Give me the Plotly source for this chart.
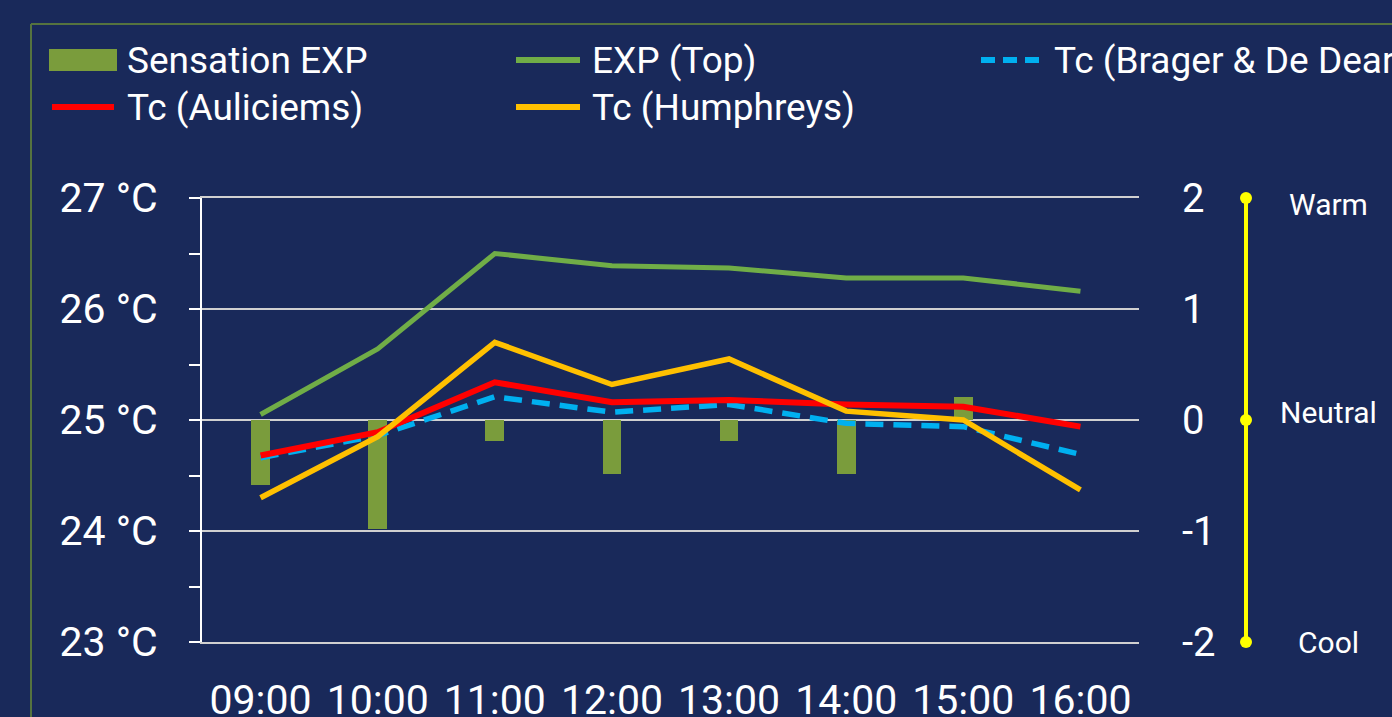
import plotly.graph_objects as go

# ---------------- data ----------------
hours = ["09:00", "10:00", "11:00", "12:00", "13:00", "14:00", "15:00", "16:00"]
sensation_exp = [-0.59, -0.98, -0.19, -0.49, -0.19, -0.49, 0.21, 0.0]
exp_top = [25.05, 25.64, 26.50, 26.39, 26.37, 26.28, 26.28, 26.16]
tc_brager = [24.66, 24.86, 25.21, 25.07, 25.14, 24.97, 24.94, 24.69]
tc_auliciems = [24.68, 24.89, 25.34, 25.16, 25.18, 25.14, 25.12, 24.94]
tc_humphreys = [24.30, 24.85, 25.70, 25.32, 25.55, 25.08, 25.00, 24.37]

series_names = ["Sensation EXP", "EXP (Top)", "Tc (Brager & De Dear)",
                "Tc (Auliciems)", "Tc (Humphreys)"]

temp_ticks = [23, 24, 25, 26, 27]
temp_labels = ["23 °C", "24 °C", "25 °C", "26 °C", "27 °C"]
sens_range = [-2, 2]
sens_ticks = [-2, -1, 0, 1, 2]
sens_labels = ["-2", "-1", "0", "1", "2"]
scale_values = [-2, 0, 2]
scale_labels = ["Cool", "Neutral", "Warm"]

# ---------------- style ----------------
BG = "#19295A"
BAR_C = "#7A9C3C"
GREEN = "#70AD47"
BLUE = "#00B0F0"
RED = "#FF0000"
ORANGE = "#FFC000"
YELLOW = "#FFFF00"
GRID = "#D0D0D0"
FONT = "Roboto"

W, H = 1392, 717
L, R, T, B = 202, 1139, 198, 642   # plot area in pixels


def px(xp):
    return (xp - L) / (R - L)


def py(yp):
    return (B - yp) / (B - T)


def sens_to_paper(v):
    return (v - sens_range[0]) / (sens_range[1] - sens_range[0])


fig = go.Figure()

# bars on the base (sensation) axis so that lines draw above them
fig.add_trace(go.Bar(x=hours, y=sensation_exp, name=series_names[0],
                     marker=dict(color=BAR_C, line=dict(width=0)),
                     width=0.16, xaxis="x", yaxis="y", showlegend=False))

line_specs = [
    (exp_top, series_names[1], GREEN, 5, "solid"),
    (tc_brager, series_names[2], BLUE, 5.5, "18px,10px"),
    (tc_auliciems, series_names[3], RED, 6, "solid"),
    (tc_humphreys, series_names[4], ORANGE, 5.5, "solid"),
]
for vals, nm, col, wd, dash in line_specs:
    fig.add_trace(go.Scatter(x=hours, y=vals, name=nm, mode="lines",
                             line=dict(color=col, width=wd, dash=dash),
                             xaxis="x", yaxis="y2", showlegend=False))

# ---------------- manual legend ----------------
shapes = []
annotations = []
leg_rows = [60, 107]
leg_cols = [(49, 117, 125), (513, 583, 590), (978, 1045, 1052)]
leg_items = [
    (series_names[0], "bar", BAR_C, 0, 0),
    (series_names[1], "line", GREEN, 0, 1),
    (series_names[2], "dash", BLUE, 0, 2),
    (series_names[3], "line", RED, 1, 0),
    (series_names[4], "line", ORANGE, 1, 1),
]
for nm, kind, col, r, c in leg_items:
    x0, x1, xt = leg_cols[c]
    yc = leg_rows[r]
    if kind == "bar":
        shapes.append(dict(type="rect", xref="paper", yref="paper",
                           x0=px(x0), x1=px(x1), y0=py(yc + 11), y1=py(yc - 11),
                           fillcolor=col, line=dict(width=0), layer="above"))
    else:
        shapes.append(dict(type="line", xref="paper", yref="paper",
                           x0=px(x0 + 3), x1=px(x1 - 3), y0=py(yc), y1=py(yc),
                           line=dict(color=col, width=6,
                                     dash="14px,8px" if kind == "dash" else "solid"),
                           layer="above"))
    annotations.append(dict(text=nm, xref="paper", yref="paper",
                            x=px(xt), y=py(yc), xanchor="left", yanchor="middle",
                            showarrow=False,
                            font=dict(family=FONT, size=37, color="white")))

# outer border (greenish frame)
shapes.append(dict(type="line", xref="paper", yref="paper",
                   x0=px(31), x1=px(W + 10), y0=py(24), y1=py(24),
                   line=dict(color="#55733F", width=2), layer="above"))
shapes.append(dict(type="line", xref="paper", yref="paper",
                   x0=px(31), x1=px(31), y0=py(24), y1=py(H + 10),
                   line=dict(color="#55733F", width=2), layer="above"))

# ---------------- thermal sensation scale on the right ----------------
scale_x = 1246
shapes.append(dict(type="line", xref="paper", yref="paper",
                   x0=px(scale_x), x1=px(scale_x),
                   y0=sens_to_paper(min(scale_values)), y1=sens_to_paper(max(scale_values)),
                   line=dict(color=YELLOW, width=4), layer="above"))
for v in scale_values:
    shapes.append(dict(type="circle", xref="paper", yref="paper",
                       xsizemode="pixel", ysizemode="pixel",
                       xanchor=px(scale_x), yanchor=sens_to_paper(v),
                       x0=-6, x1=6, y0=-6, y1=6,
                       fillcolor=YELLOW, line=dict(width=0), layer="above"))
label_shift = {"Cool": 0, "Neutral": 8, "Warm": -6}
for v, lab in zip(scale_values, scale_labels):
    annotations.append(dict(text=lab, xref="paper", yref="paper", x=px(1328),
                            y=sens_to_paper(v),
                            xanchor="center", yanchor="middle", showarrow=False,
                            yshift=label_shift[lab],
                            font=dict(family=FONT, size=30, color="white")))

fig.update_layout(
    width=W, height=H,
    autosize=False,
    margin=dict(l=L, r=W - R, t=T, b=H - B, pad=0, autoexpand=False),
    paper_bgcolor=BG, plot_bgcolor=BG,
    font=dict(family=FONT, color="white"),
    showlegend=False,
    bargap=0,
    xaxis=dict(type="category", categoryorder="array", categoryarray=hours,
               range=[-0.5, len(hours) - 0.5], automargin=False,
               showgrid=False, zeroline=False, ticks="",
               showline=True, linecolor=GRID, linewidth=2, mirror=True,
               tickfont=dict(family=FONT, size=41, color="white"),
               ticklabelstandoff=21),
    yaxis=dict(side="right", range=sens_range, tickvals=sens_ticks, ticktext=sens_labels,
               automargin=False,
               showgrid=True, gridcolor=GRID, gridwidth=2,
               zeroline=False, showline=False, ticks="",
               tickfont=dict(family=FONT, size=40, color="white"),
               ticklabelstandoff=42),
    yaxis2=dict(overlaying="y", side="left", range=[23, 27], automargin=False,
                tickvals=temp_ticks, ticktext=temp_labels,
                showgrid=False, zeroline=False,
                showline=True, linecolor="white", linewidth=2,
                ticks="outside", ticklen=11, tickwidth=2, tickcolor="white",
                minor=dict(dtick=0.5, ticks="outside", ticklen=11, tickwidth=2,
                           tickcolor="white", showgrid=False),
                tickfont=dict(family=FONT, size=41, color="white"),
                ticklabelstandoff=23),
    shapes=shapes,
    annotations=annotations,
)

fig.write_html("out.html",
               config={"displayModeBar": False, "responsive": False},
               post_script="document.body.style.margin='0';"
                           "document.body.style.overflow='hidden';")
